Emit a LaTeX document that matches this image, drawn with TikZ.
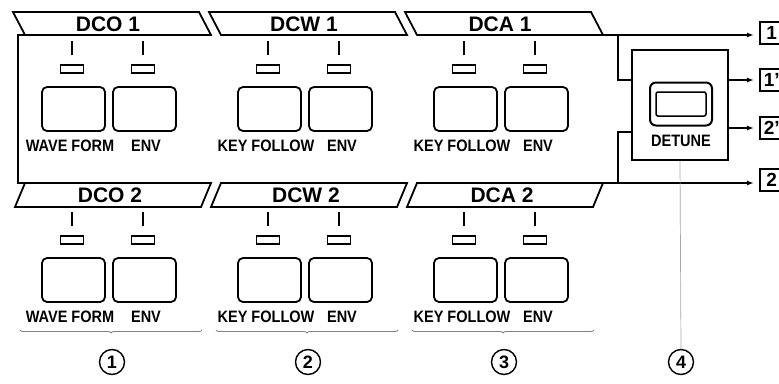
\documentclass[tikz,border=0pt]{standalone}
\usepackage{fontspec}
\setmainfont{Liberation Sans}
\newfontfamily\narrowfont{Liberation Sans}[FakeStretch=0.88]
\usetikzlibrary{arrows.meta,decorations.pathreplacing}

\tikzset{
  panel/.style={line width=1.8pt},
  tick/.style={line width=1.6pt},
  btn/.style={draw, line width=1.8pt, rounded corners=5pt, minimum width=63pt, minimum height=44pt, inner sep=0pt},
  led/.style={draw, line width=1.4pt, minimum width=23pt, minimum height=8pt, inner sep=0pt},
  title/.style={font=\fontsize{21}{21}\selectfont\bfseries, inner sep=0pt},
  caption/.style={font=\narrowfont\fontsize{16.5}{16.5}\selectfont\bfseries, inner sep=0pt},
  outbox/.style={draw, line width=1.5pt, minimum width=24pt, minimum height=22pt, inner sep=1pt, anchor=west, font=\fontsize{19}{19}\selectfont\bfseries},
  group/.style={draw, circle, line width=1.4pt, minimum size=25pt, inner sep=0pt, font=\fontsize{18}{18}\selectfont\bfseries},
  feed/.style={line width=1.8pt, -{Latex[length=7pt,width=5pt]}, shorten >=5pt},
}

\begin{document}
\begin{tikzpicture}[x=1pt,y=-1pt]
\useasboundingbox (0,0) rectangle (779,383);

% left edge of the panel
\draw[panel] (25,35) -- (18,35) -- (18,183) -- (25,183);

\foreach \i/\dx/\sect/\key in {1/0/DCO/WAVE FORM, 2/196/DCW/KEY FOLLOW, 3/392/DCA/KEY FOLLOW} {
  \begin{scope}[xshift=\dx pt]
    % upper and lower banners
    \draw[panel] (25,35) -- (211,35) -- (199,12) -- (13,12) -- cycle;
    \node[title] (t\i a) at (108,24) {\sect\ 1};
    \draw[panel] (25,183) -- (211,183) -- (201,207) -- (15,207) -- cycle;
    \node[title] (t\i b) at (110,195) {\sect\ 2};
    \foreach \r/\dy in {a/0, b/171} {
      \begin{scope}[yshift=-\dy pt]
        \node[led] (lk\i\r) at (72,69) {};
        \node[led] (le\i\r) at (143,69) {};
        \draw[tick] ([yshift=9pt]lk\i\r.north) -- ++(0,-14);
        \draw[tick] ([yshift=9pt]le\i\r.north) -- ++(0,-14);
        \node[btn] (k\i\r) at (73.5,109) {};
        \node[btn] (e\i\r) at (144.5,109) {};
        \node[caption] (ck\i\r) at (70,146) {\key};
        \node[caption] (ce\i\r) at (146,146) {ENV};
      \end{scope}
    }
    \draw[decorate, decoration={brace, amplitude=3pt, mirror}, gray, line width=0.8pt] (20,330) -- (202,330);
    \node[group] (g\i) at (112,362) {\i};
  \end{scope}
}

% detune section
\coordinate (a1) at (603,35);
\coordinate (a2) at (603,183);
\coordinate (s1) at (618,35);
\coordinate (s2) at (618,183);
\node[draw, panel, minimum width=96pt, minimum height=110pt] (detune) at (680,105) {};
\node[draw, rounded corners=6pt, line width=2pt, minimum width=62pt, minimum height=43pt] (knob) at (681,104) {};
\node[draw, rounded corners=2pt, line width=1.5pt, minimum width=50pt, minimum height=24pt] (window) at (knob) {};
\node[caption] (dlbl) at (681,141) {DETUNE};

\node[outbox] (o1) at (759,33) {1};
\node[outbox] (o1p) at (759,80) {1'};
\node[outbox] (o2p) at (759,128) {2'};
\node[outbox] (o2) at (759,180) {2};

\draw[panel] (s1) |- ([yshift=25pt]detune.west);
\draw[panel] (s2) |- ([yshift=-27pt]detune.west);
\draw[feed] (a1) -- (a1 -| o1.west);
\draw[feed] (detune.east |- o1p) -- (o1p.west);
\draw[feed] (detune.east |- o2p) -- (o2p.west);
\draw[feed] (a2) -- (a2 -| o2.west);

\node[group] (g4) at (681,362) {4};
\draw[gray!70, line width=0.7pt] (detune.south) -- (g4.north);
\end{tikzpicture}
\end{document}
